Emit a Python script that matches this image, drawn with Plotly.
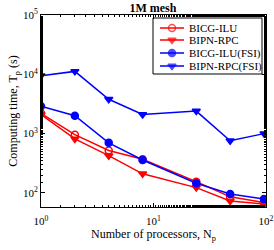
import plotly.graph_objects as go

procs = [1, 2, 4, 8, 24, 48, 96]
bicg_ilu = [2200, 960, 520, 370, 155, 86, 69]
bipn_rpc = [2100, 815, 425, 210, 123, 73, 65]
bicg_ilu_fsi = [2900, 2000, 700, 360, 146, 96, 79]
bipn_rpc_fsi = [9500, 11200, 3800, 2100, 2400, 760, 1000]

series_names = ["BICG-ILU", "BIPN-RPC", "BICG-ILU(FSI)", "BIPN-RPC(FSI)"]

x_ticks = [1, 10, 100]
x_labels = ["10<sup>0</sup>", "10<sup>1</sup>", "10<sup>2</sup>"]
y_ticks = [100, 1000, 10000, 100000]
y_labels = ["10<sup>2</sup>", "10<sup>3</sup>", "10<sup>4</sup>", "10<sup>5</sup>"]

FONT = "Liberation Serif"
series_vals = [bicg_ilu, bipn_rpc, bicg_ilu_fsi, bipn_rpc_fsi]
styles = [("red", "circle-open"), ("red", "triangle-down"),
          ("blue", "circle"), ("blue", "triangle-down")]

fig = go.Figure()
for name, vals, (col, sym) in zip(series_names, series_vals, styles):
    fig.add_trace(go.Scatter(
        x=procs, y=vals, name=name, mode="lines+markers", showlegend=False,
        line=dict(color=col, width=1.5),
        marker=dict(symbol=sym, size=7, color=col, line=dict(color=col, width=1.5)),
    ))

# Compact legend drawn on an overlay axis measured in plot pixels
PW, PH = 225, 192
row_y = [179, 167, 154, 141]
for name, (col, sym), ry in zip(series_names, styles, row_y):
    fig.add_trace(go.Scatter(
        x=[119, 131, 143], y=[ry, ry, ry], xaxis="x2", yaxis="y2",
        mode="lines+markers", showlegend=False, hoverinfo="skip",
        line=dict(color=col, width=1.5),
        marker=dict(symbol=sym, size=[0, 7, 0], color=col, line=dict(color=col, width=1.5)),
    ))
    fig.add_annotation(x=146, y=ry, xref="x2", yref="y2", text=name, showarrow=False,
                       xanchor="left", yanchor="middle",
                       font=dict(family=FONT, size=11, color="black"))

fig.add_shape(type="rect", xref="x2", yref="y2", x0=112, x1=221, y0=133, y1=189,
              line=dict(color="black", width=1), fillcolor="rgba(0,0,0,0)", layer="above")

axis_common = dict(
    type="log", showgrid=False, zeroline=False, automargin=False,
    showline=True, linecolor="black", linewidth=1, mirror="ticks",
    ticks="inside", ticklen=4, tickcolor="black",
    minor=dict(ticks="inside", ticklen=2, tickcolor="black"),
    tickfont=dict(family=FONT, size=11, color="black"),
)
fig.update_layout(
    xaxis=dict(**axis_common, range=[0, 2], tickvals=x_ticks, ticktext=x_labels,
               ticklabelstandoff=4,
               title=dict(text="Number of processors, N<sub>p</sub>",
                          font=dict(family=FONT, size=12, color="black"), standoff=3)),
    yaxis=dict(**axis_common, range=[1.763, 5], tickvals=y_ticks, ticktext=y_labels,
               title=dict(text="Computing time, T<sub>p</sub> (s)",
                          font=dict(family=FONT, size=12, color="black"), standoff=2)),
    xaxis2=dict(overlaying="x", range=[0, PW], visible=False, fixedrange=True, automargin=False),
    yaxis2=dict(overlaying="y", range=[0, PH], visible=False, fixedrange=True, automargin=False),
    width=274, height=250,
    margin=dict(l=41, r=8, t=15, b=43, autoexpand=False),
    plot_bgcolor="white", paper_bgcolor="white",
    title=dict(text="<b>1M mesh</b>", x=0.558, xanchor="center", y=0.985, yanchor="top",
               font=dict(family=FONT, size=12, color="black")),
    showlegend=False,
)
fig.write_html("out.html", config={"displayModeBar": False},
               post_script="document.body.style.margin='0';document.body.style.overflow='hidden';")
